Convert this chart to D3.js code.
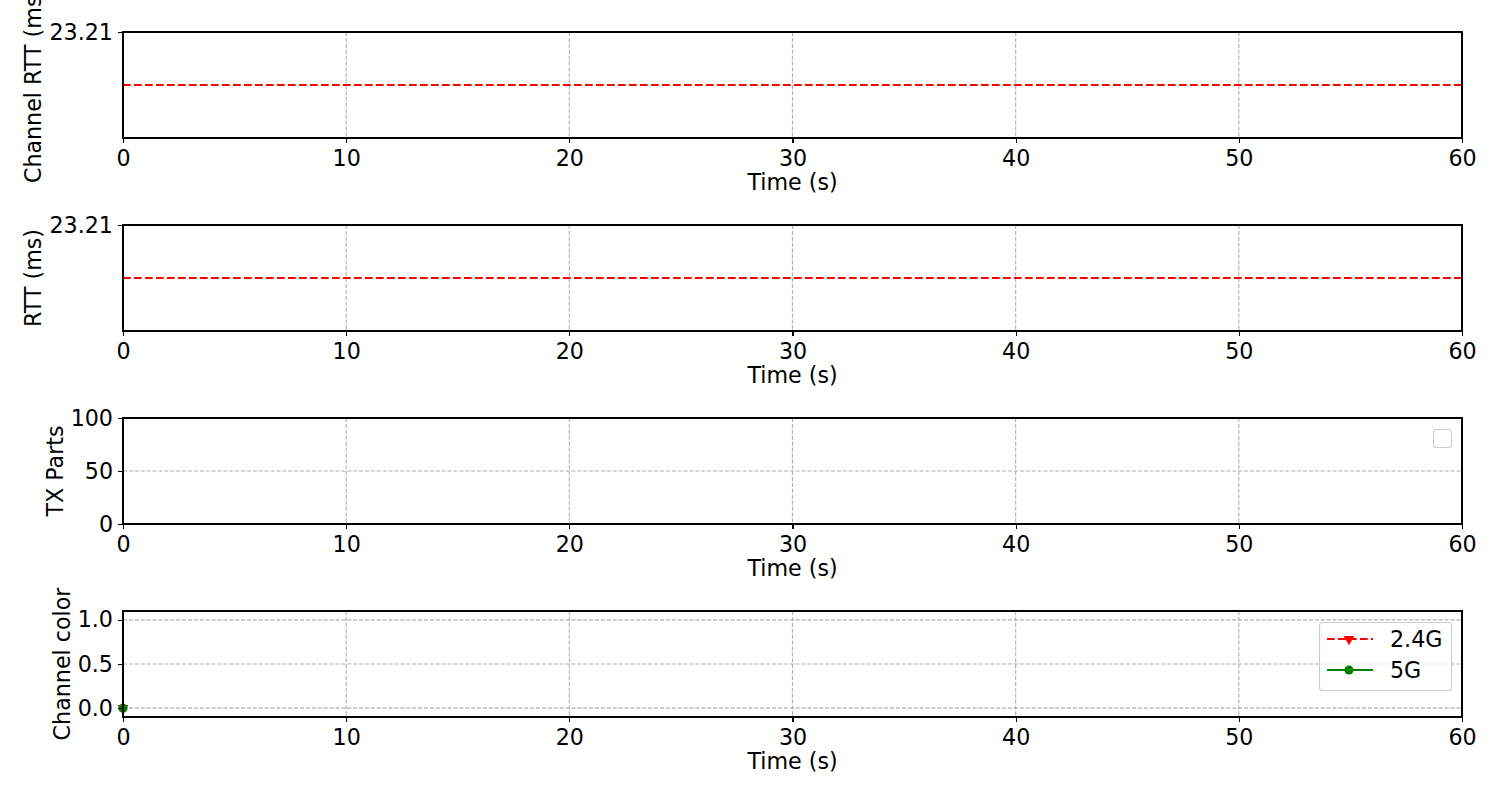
<!DOCTYPE html>
<html><head><meta charset="utf-8">
<script src="https://cdn.jsdelivr.net/npm/d3@7"></script>
<style>
body{margin:0;background:#fff;}
svg{display:block;font-family:"DejaVu Sans",sans-serif;}
</style></head>
<body><svg id="c" width="1500" height="796"></svg>
<script>
const timeTicks = [0,10,20,30,40,50,60];
const xDomain = [0,60];
const rttTickLabels = ["23.21"];
const rttDomain = [0, 23.21];
const channelRttTimes = [0, 60];
const channelRttValues = [11.605, 11.605];
const rttTimes = [0, 60];
const rttValues = [11.605, 11.605];
const txTicks = [0, 50, 100];
const txDomain = [0, 100];
const colorTicks = [0.0, 0.5, 1.0];
const colorDomain = [-0.1, 1.1];
const series24Times = [0];
const series24Values = [0];
const series5Times = [0];
const series5Values = [0];
const legendLabels = ["2.4G", "5G"];

const svg = d3.select("#c");
const L = 123, R = 1462, H = 106;
const tops = [32, 225, 418, 611];
const fs = 22.2;
const x = d3.scaleLinear().domain(xDomain).range([L, R]);

function panel(i, yDomain, yTicks, yFmt, ylabel, hgrid){
  const top = tops[i], bot = top + H;
  const y = d3.scaleLinear().domain(yDomain).range([bot, top]);
  const g = svg.append("g");
  const grid = g.append("g");
  timeTicks.forEach(t => {
    grid.append("line").attr("x1", x(t)).attr("x2", x(t)).attr("y1", top).attr("y2", bot)
      .attr("stroke", "#b0b0b0").attr("stroke-width", 1.1).attr("stroke-dasharray", "4.1,1.8");
  });
  if (hgrid) yTicks.forEach(v => {
    grid.append("line").attr("x1", L).attr("x2", R).attr("y1", y(v)).attr("y2", y(v))
      .attr("stroke", "#b0b0b0").attr("stroke-width", 1.1).attr("stroke-dasharray", "4.1,1.8");
  });
  const content = g.append("g");
  const xa = g.append("g").attr("transform", `translate(0,${bot})`)
    .call(d3.axisBottom(x).tickValues(timeTicks).tickFormat(d3.format("d")).tickSize(5).tickPadding(5));
  const ya = g.append("g").attr("transform", `translate(${L},0)`)
    .call(d3.axisLeft(y).tickValues(yTicks).tickFormat(yFmt).tickSize(5).tickPadding(5));
  [xa, ya].forEach(a => {
    a.attr("font-size", fs).attr("font-family", "DejaVu Sans");
    a.select(".domain").remove();
    a.selectAll("line").attr("stroke", "#000").attr("stroke-width", 1.3).attr("shape-rendering", "crispEdges");
    a.selectAll("text").attr("font-size", fs).attr("fill", "#000");
  });
  xa.selectAll("text").attr("dy", "0.82em");
  g.append("rect").attr("x", L).attr("y", top).attr("width", R - L).attr("height", H)
    .attr("fill", "none").attr("stroke", "#000").attr("stroke-width", 1.3).attr("shape-rendering", "crispEdges");
  g.append("text").attr("x", (L + R) / 2).attr("y", bot + 52).attr("text-anchor", "middle")
    .attr("font-size", fs).text("Time (s)");
  let minX = L;
  ya.selectAll("text").each(function(){ const b = this.getBBox(); const tx = L - 10 - b.width; if (tx < minX) minX = tx; });
  const lx = minX - 8;
  g.append("text").attr("transform", `translate(${lx},${(top + bot) / 2}) rotate(-90)`)
    .attr("text-anchor", "middle").attr("font-size", fs).text(ylabel);
  return {y, content, top, bot};
}

const p1 = panel(0, rttDomain, [23.21], (d,i) => rttTickLabels[0], "Channel RTT (ms)", false);
const p2 = panel(1, rttDomain, [23.21], (d,i) => rttTickLabels[0], "RTT (ms)", false);
const p3 = panel(2, txDomain, txTicks, d3.format("d"), "TX Parts", true);
const p4 = panel(3, colorDomain, colorTicks, d3.format(".1f"), "Channel color", true);

function drawLine(p, times, vals, color, dash){
  const line = d3.line().x((d,i) => x(times[i])).y(d => p.y(d));
  p.content.append("path").datum(vals).attr("d", line).attr("fill", "none")
    .attr("stroke", color).attr("stroke-width", 2.1).attr("stroke-dasharray", dash);
}
drawLine(p1, channelRttTimes, channelRttValues, "red", "7.7,3.3");
drawLine(p2, rttTimes, rttValues, "red", "7.7,3.3");

const tri = d3.symbol().type(d3.symbolTriangle).size(50);
p4.content.selectAll(".t").data(series24Values).enter().append("path")
  .attr("d", tri).attr("fill", "red")
  .attr("transform", (d,i) => `translate(${x(series24Times[i])},${p4.y(d)}) rotate(180)`);
p4.content.selectAll(".c").data(series5Values).enter().append("circle")
  .attr("cx", (d,i) => x(series5Times[i])).attr("cy", d => p4.y(d)).attr("r", 4.6).attr("fill", "green");

svg.append("rect").attr("x", 1433.5).attr("y", 429.5).attr("width", 18).attr("height", 18).attr("rx", 3)
  .attr("fill", "#fff").attr("fill-opacity", 0.8).attr("stroke", "#cccccc").attr("stroke-width", 1.1);

const lg = svg.append("g");
lg.append("rect").attr("x", 1319.5).attr("y", 622.5).attr("width", 132).attr("height", 68).attr("rx", 3)
  .attr("fill", "#fff").attr("fill-opacity", 0.8).attr("stroke", "#cccccc").attr("stroke-width", 1.1);
const rows = [{c:"red", dash:"7.7,3.3", m:"tri"}, {c:"green", dash:null, m:"circ"}];
rows.forEach((r, i) => {
  const yy = 639 + i * 31;
  lg.append("line").attr("x1", 1327).attr("x2", 1373).attr("y1", yy).attr("y2", yy)
    .attr("stroke", r.c).attr("stroke-width", 2.1).attr("stroke-dasharray", r.dash);
  if (r.m === "tri") lg.append("path").attr("d", tri).attr("fill", r.c).attr("transform", `translate(1349,${yy}) rotate(180)`);
  else lg.append("circle").attr("cx", 1349).attr("cy", yy).attr("r", 4.6).attr("fill", r.c);
  lg.append("text").attr("x", 1390).attr("y", yy).attr("dy", "0.35em").attr("font-size", fs).text(legendLabels[i]);
});
</script></body></html>
